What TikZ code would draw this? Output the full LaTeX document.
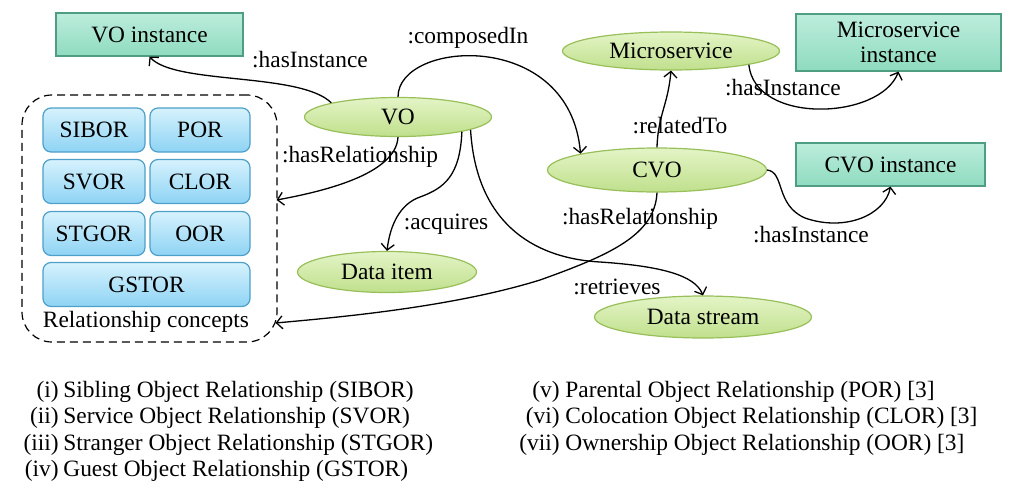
\documentclass[tikz,border=0pt]{standalone}
\usepackage{fontspec}
\setmainfont{Liberation Serif}
\usetikzlibrary{shapes.geometric,arrows.meta,calc}
\definecolor{tealtop}{HTML}{BDEDDC}
\definecolor{tealbot}{HTML}{8EDBC0}
\definecolor{tealdraw}{HTML}{4F9E83}
\definecolor{gtop}{HTML}{E3F4C6}
\definecolor{gbot}{HTML}{C0E08C}
\definecolor{gdraw}{HTML}{98BF5A}
\definecolor{btop}{HTML}{D6F2FD}
\definecolor{bbot}{HTML}{8ED3F4}
\definecolor{bdraw}{HTML}{4E9FC9}
\begin{document}
\begin{tikzpicture}[x=0.5pt,y=-0.5pt,
  font=\fontsize{11.7}{13}\selectfont,
  inst/.style={draw=tealdraw, line width=0.6pt, top color=tealtop, bottom color=tealbot, inner sep=0pt, align=center},
  concept/.style={ellipse, draw=gdraw, line width=0.6pt, top color=gtop, bottom color=gbot, inner sep=0pt},
  relbox/.style={draw=bdraw, line width=0.6pt, rounded corners=4pt, top color=btop, bottom color=bbot, inner sep=0pt, minimum height=22pt},
  conn/.style={line width=0.65pt, -{Straight Barb[length=3pt,width=6.5pt]}},
  lbl/.style={inner sep=0pt}]
\useasboundingbox (0,0) rectangle (1014,504);

% instance boxes
\node[inst, minimum width=93.5pt, minimum height=21.5pt] (voi) at (149.5,34.5) {VO instance};
\node[inst, minimum width=102.5pt, minimum height=28.5pt, font=\fontsize{11.7}{12.5}\selectfont] (msi) at (898.5,42.5) {Microservice\\instance};
\node[inst, minimum width=94.5pt, minimum height=21.5pt] (cvoi) at (890.5,164.5) {CVO instance};

% concepts
\node[concept, minimum width=93.5pt, minimum height=19.5pt] (vo) at (398,117) {VO};
\node[concept, minimum width=108.5pt, minimum height=19pt] (ms) at (671,51) {Microservice};
\node[concept, minimum width=109.5pt, minimum height=22pt] (cvo) at (657,170) {CVO};
\node[concept, minimum width=89.5pt, minimum height=20.5pt] (di) at (387,272) {Data item};
\node[concept, minimum width=108.5pt, minimum height=21pt] (ds) at (703,317) {Data stream};

% relationship concepts group
\node[draw, dashed, dash pattern=on 4pt off 2.5pt, rounded corners=15pt, line width=0.6pt, minimum width=127.5pt, minimum height=123.5pt, inner sep=0pt] (rel) at (149.5,218.5) {};
\node[relbox, minimum width=51pt] (sibor) at (94,130) {SIBOR};
\node[relbox, minimum width=50pt] (por) at (200,130) {POR};
\node[relbox, minimum width=51pt] (svor) at (94,181.5) {SVOR};
\node[relbox, minimum width=50pt] (clor) at (200,181.5) {CLOR};
\node[relbox, minimum width=51pt] (stgor) at (94,233.5) {STGOR};
\node[relbox, minimum width=50pt] (oor) at (200,233.5) {OOR};
\node[relbox, minimum width=103.5pt] (gstor) at (146.5,284.5) {GSTOR};
\node[lbl] (relt) at (146,322) {Relationship concepts};

\coordinate (relA) at ($(rel.east)+(-1,-18.5)$);
\coordinate (relB) at ($(rel.east)+(-2,104.5)$);

% connectors
\draw[conn] (vo.168) .. controls (300,72) and (175,85) .. (voi.south);
\draw[conn] (vo.north) .. controls (398,40) and (570,28) .. (cvo.168);
\draw[conn] (vo.south) .. controls (396,175) and (320,192) .. (relA);
\draw[conn] (vo.-13) .. controls (460,175) and (445,188) .. (420,197) .. controls (400,204) and (390,225) .. (di.north);
\draw[conn] (vo.-10) .. controls (476,220) and (530,258) .. (600,262) .. controls (660,266) and (695,275) .. (ds.north);
\draw[conn] (cvo.south) .. controls (655,235) and (610,255) .. (540,280) .. controls (450,308) and (330,318) .. (relB);
\draw[conn] (cvo.north) .. controls (658,115) and (668,105) .. (ms.south);
\draw[conn] (ms.-10) .. controls (755,125) and (880,120) .. (msi.south);
\draw[conn] (cvo.east) .. controls (785,172) and (775,205) .. (805,218) .. controls (845,232) and (885,215) .. (cvoi.south);

% connector labels
\node[lbl] (l1) at (310,60) {:hasInstance};
\node[lbl] (l2) at (468,38) {:composedIn};
\node[lbl] (l3) at (360,157) {:hasRelationship};
\node[lbl] (l4) at (446,224) {:acquires};
\node[lbl] (l5) at (617,287) {:retrieves};
\node[lbl] (l6) at (640,219) {:hasRelationship};
\node[lbl] (l7) at (680,126) {:relatedTo};
\node[lbl] (l8) at (783,88) {:hasInstance};
\node[lbl] (l9) at (811,235) {:hasInstance};

% legend
\node[lbl, anchor=base east] (a1) at (59,397) {(i)};
\node[lbl, anchor=base west] (b1) at (63,397) {Sibling Object Relationship (SIBOR)};
\node[lbl, anchor=base east] (a2) at (59,423.5) {(ii)};
\node[lbl, anchor=base west] (b2) at (63,423.5) {Service Object Relationship (SVOR)};
\node[lbl, anchor=base east] (a3) at (59,450) {(iii)};
\node[lbl, anchor=base west] (b3) at (63,450) {Stranger Object Relationship (STGOR)};
\node[lbl, anchor=base east] (a4) at (59,476.5) {(iv)};
\node[lbl, anchor=base west] (b4) at (63,476.5) {Guest Object Relationship (GSTOR)};
\node[lbl, anchor=base east] (a5) at (560,397) {(v)};
\node[lbl, anchor=base west] (b5) at (565,397) {Parental Object Relationship (POR) [3]};
\node[lbl, anchor=base east] (a6) at (560,423.5) {(vi)};
\node[lbl, anchor=base west] (b6) at (565,423.5) {Colocation Object Relationship (CLOR) [3]};
\node[lbl, anchor=base east] (a7) at (560,450) {(vii)};
\node[lbl, anchor=base west] (b7) at (565,450) {Ownership Object Relationship (OOR) [3]};
\end{tikzpicture}
\end{document}
